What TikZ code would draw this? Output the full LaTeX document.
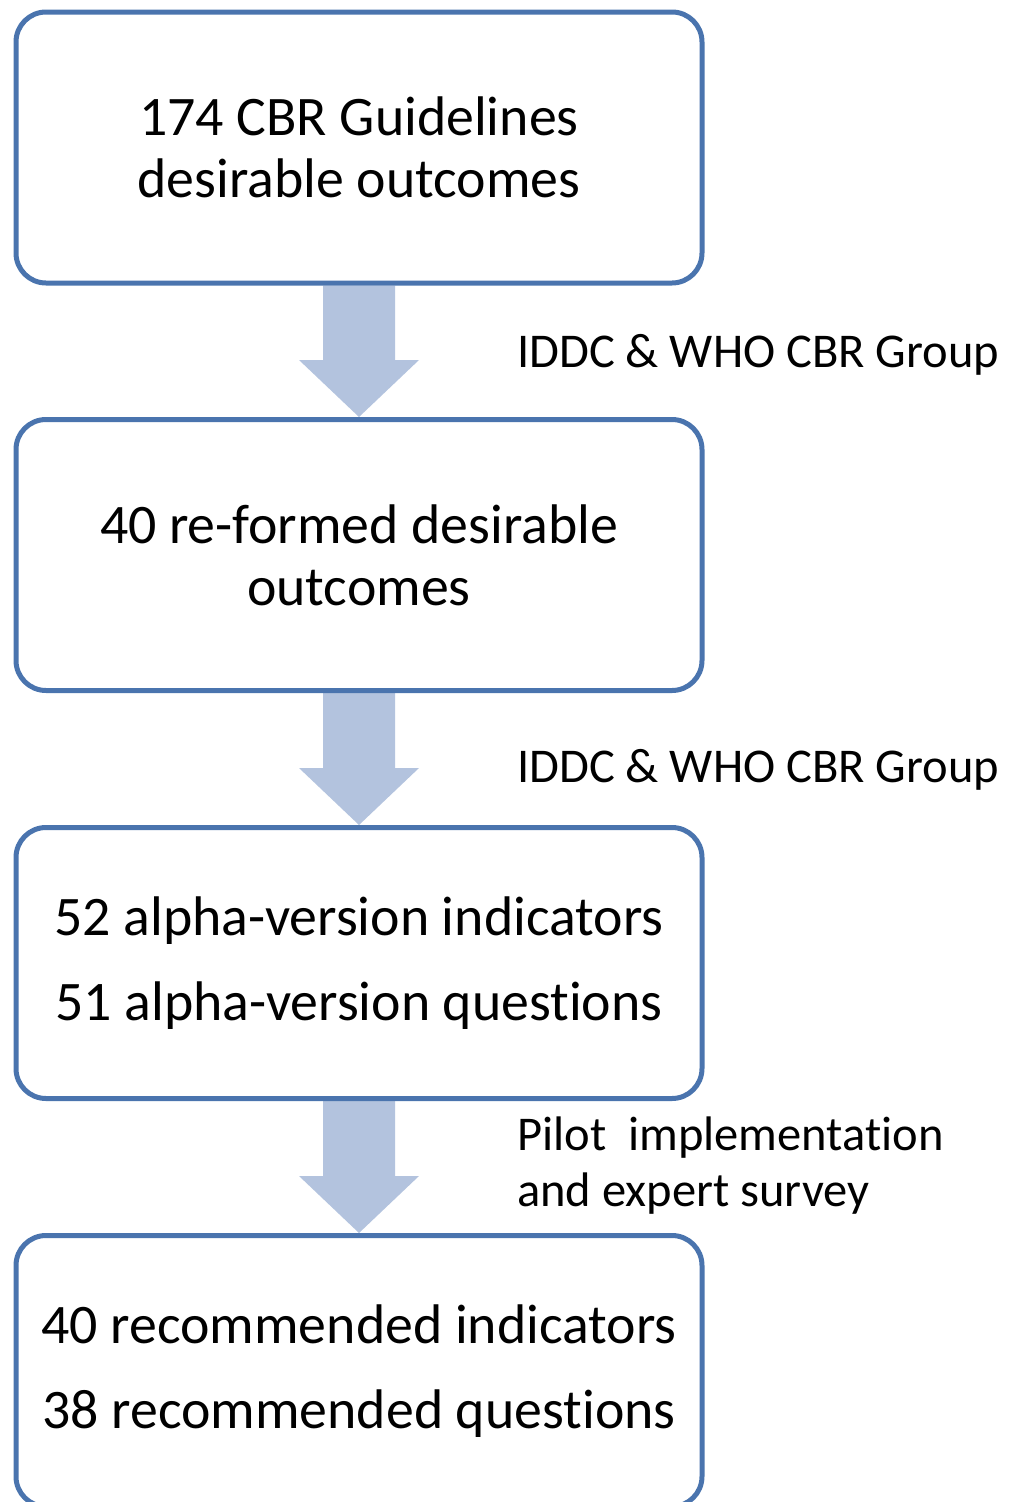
\documentclass[tikz,border=0pt]{standalone}
\usepackage{fontspec}
\setmainfont[Ligatures=NoCommon]{Carlito}
\usetikzlibrary{calc,backgrounds}
\definecolor{boxblue}{HTML}{4A74AE}
\definecolor{arrowblue}{HTML}{B3C3DE}
\tikzset{
  stagebox/.style={draw=boxblue, line width=5pt, rounded corners=30pt, fill=white,
    minimum width=686pt, minimum height=271pt, align=center, inner sep=0pt,
    font=\fontsize{55.8}{62}\selectfont},
  sidelabel/.style={anchor=base west, inner sep=0pt, align=left,
    font=\fontsize{48.5}{56}\selectfont},
  flowarrow/.style={fill=arrowblue}
}
\newcommand{\flowarr}[2]{%
  \fill[flowarrow] ($(#1.south)+(-36,0)$) -- ($(#1.south)+(36,0)$)
    -- ($(#2.north)+(36,-57)$) -- ($(#2.north)+(60,-57)$) -- (#2.north)
    -- ($(#2.north)+(-60,-57)$) -- ($(#2.north)+(-36,-57)$) -- cycle;}
\begin{document}
\begin{tikzpicture}[x=1pt,y=-1pt]
\useasboundingbox (0,0) rectangle (1018,1502);
\clip (0,0) rectangle (1018,1502);
\node[stagebox] (b1) at (359,147.5) {174 CBR Guidelines\\desirable outcomes};
\node[stagebox] (b2) at (359,555) {40 re-formed desirable\\outcomes};
\node[stagebox] (b3) at (359,963) {52 alpha-version indicators\\[23pt]51 alpha-version questions};
\node[stagebox] (b4) at (359,1371) {40 recommended indicators\\[23pt]38 recommended questions};
\begin{scope}[on background layer]
\flowarr{b1}{b2}
\flowarr{b2}{b3}
\flowarr{b3}{b4}
\end{scope}
\node[sidelabel] (l1) at (517,367) {IDDC \& WHO CBR Group};
\node[sidelabel] (l2) at (517,782) {IDDC \& WHO CBR Group};
\node[sidelabel] (l3) at (517,1206) {Pilot\ \ implementation\\and expert survey};
\end{tikzpicture}
\end{document}
